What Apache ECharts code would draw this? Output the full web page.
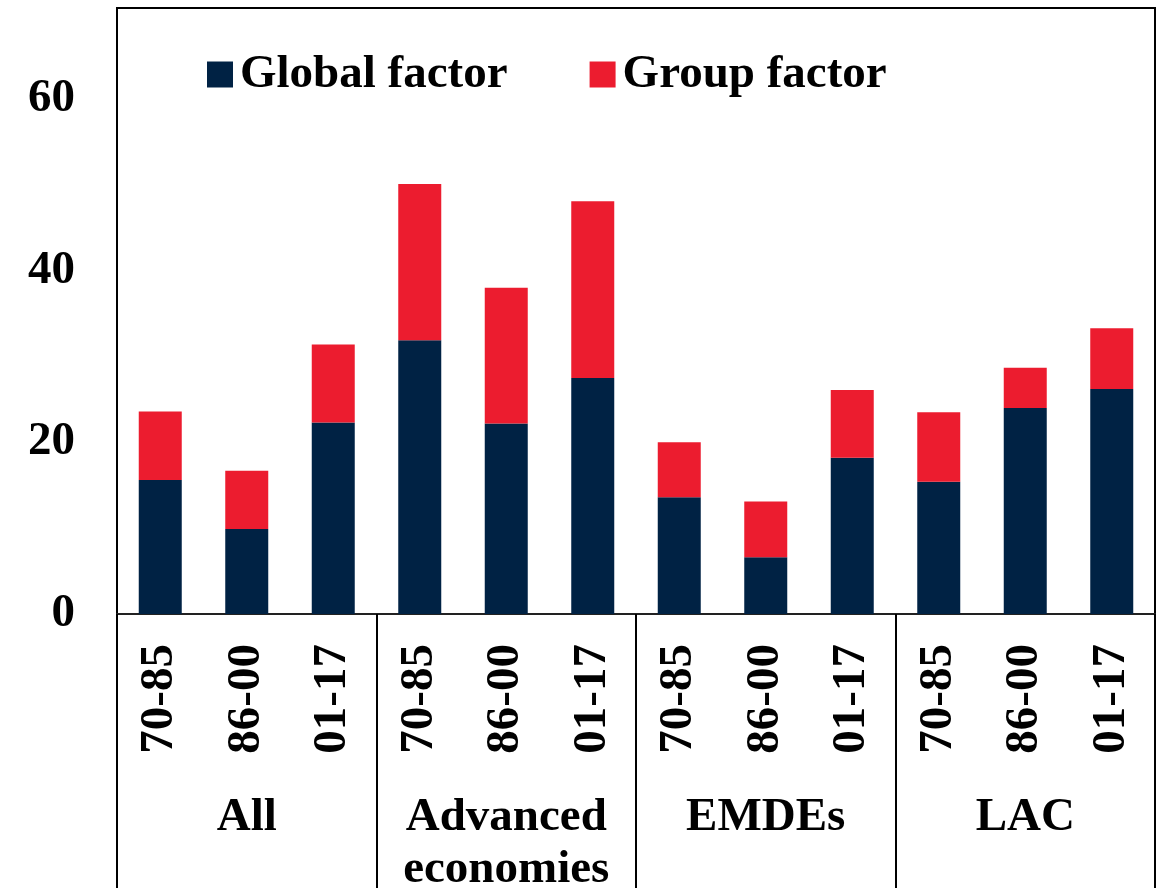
<!DOCTYPE html>
<html>
<head>
<meta charset="utf-8">
<script src="https://cdn.jsdelivr.net/npm/echarts@6/dist/echarts.min.js"></script>
<style>
html,body{margin:0;padding:0;background:#fff;}
#chart{width:1160px;height:896px;}
</style>
</head>
<body>
<div id="chart"></div>
<script>
var periods = ['70-85','86-00','01-17','70-85','86-00','01-17','70-85','86-00','01-17','70-85','86-00','01-17'];
var groups = ['All','Advanced\neconomies','EMDEs','LAC'];
var globalFactor = [15.6, 9.9, 22.3, 31.9, 22.2, 27.5, 13.6, 6.6, 18.2, 15.4, 24.0, 26.2];
var groupFactor = [8.0, 6.8, 9.1, 18.2, 15.8, 20.6, 6.4, 6.5, 7.9, 8.1, 4.7, 7.1];
var yTicks = [0, 20, 40, 60];

var FONT = 'Liberation Serif, Times New Roman, serif';
var chart = echarts.init(document.getElementById('chart'), null, {renderer:'canvas'});
chart.setOption({
  animation: false,
  backgroundColor: '#fff',
  grid: {left: 117, right: 5, top: 8, bottom: 274, show: true, borderColor: '#000', borderWidth: 2, containLabel: false},
  legend: {
    left: 202, top: 46,
    itemWidth: 26, itemHeight: 26, itemGap: 82,
    icon: 'rect',
    textStyle: {fontFamily: FONT, fontWeight: 'bold', fontSize: 47, color: '#000', padding: [0,0,0,2]},
    data: ['Global factor','Group factor']
  },
  xAxis: [{
    type: 'category',
    data: periods,
    position: 'bottom',
    axisLine: {show: true, lineStyle: {color: '#222', width: 2}},
    axisTick: {show: false},
    axisLabel: {rotate: 90, margin: 30, interval: 0, fontFamily: FONT, fontWeight: 'bold', fontSize: 47, color: '#000'}
  },{
    type: 'category',
    data: groups,
    position: 'bottom',
    axisLine: {show: false},
    axisTick: {show: true, length: 274, interval: 0, lineStyle: {color: '#000', width: 2}},
    axisLabel: {margin: 178, interval: 0, fontFamily: FONT, fontWeight: 'bold', fontSize: 47, lineHeight: 52, color: '#000', verticalAlign: 'top'}
  }],
  yAxis: {
    type: 'value', min: 0, max: 70.6, interval: 20,
    splitLine: {show: false},
    axisLine: {show: true, lineStyle: {color: '#000', width: 2}},
    axisTick: {show: false},
    axisLabel: {
      margin: 42, showMaxLabel: false, fontFamily: FONT, fontWeight: 'bold', fontSize: 47, color: '#000',
      formatter: function(v){ return yTicks.indexOf(v) >= 0 ? String(v) : ''; }
    }
  },
  series: [{
    name: 'Global factor', type: 'bar', stack: 'a', xAxisIndex: 0,
    barWidth: 43, data: globalFactor, itemStyle: {color: '#002244'}
  },{
    name: 'Group factor', type: 'bar', stack: 'a', xAxisIndex: 0,
    barWidth: 43, data: groupFactor, itemStyle: {color: '#EC1C2F'}
  }]
});
</script>
</body>
</html>
